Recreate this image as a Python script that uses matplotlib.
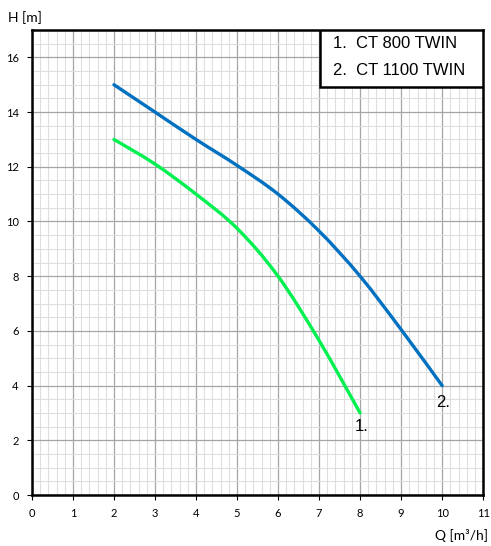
import numpy as np
import matplotlib.pyplot as plt
from matplotlib.path import Path
from matplotlib.patches import PathPatch, Rectangle

# pump curves
q_800 = [2, 3, 4, 5, 6, 7, 8]
h_800 = [13.0, 12.1, 11.0, 9.75, 8.0, 5.65, 3.0]
q_1100 = [2, 3, 4, 5, 6, 7, 8, 9, 10]
h_1100 = [15.0, 14.0, 13.0, 12.05, 11.0, 9.65, 8.0, 6.05, 4.0]
legend_lines = ['1.  CT 800 TWIN', '2.  CT 1100 TWIN']
curve_tags = ['1.', '2.']


def smooth_path(xs, ys, t=1/6):
    # Catmull-Rom style bezier through the points (like a spreadsheet smooth line)
    p = np.column_stack([xs, ys]).astype(float)
    verts = [p[0]]
    codes = [Path.MOVETO]
    n = len(p)
    for i in range(n - 1):
        p0 = p[max(i - 1, 0)]
        p1 = p[i]
        p2 = p[i + 1]
        p3 = p[min(i + 2, n - 1)]
        c1 = p1 + (p2 - p0) * t
        c2 = p2 - (p3 - p1) * t
        verts += [c1, c2, p2]
        codes += [Path.CURVE4] * 3
    return Path(verts, codes)


fig = plt.figure(figsize=(4.91, 5.46), dpi=100)
ax = fig.add_axes([0.065, 0.0934, 0.919, 0.8516])

ax.set_xlim(0, 11)
ax.set_ylim(0, 17)
ax.set_xticks(np.arange(0, 12, 1))
ax.set_yticks(np.arange(0, 17, 2))
ax.set_xticks(np.arange(0, 11.01, 0.2), minor=True)
ax.set_yticks(np.arange(0, 17.01, 0.5), minor=True)
ax.grid(which='minor', color='#dedede', linewidth=0.8)
ax.grid(which='major', color='#a6a6a6', linewidth=0.9)
ax.set_axisbelow(True)
ax.tick_params(which='minor', length=0)
ax.tick_params(which='major', length=3.5, width=0.8, labelsize=8, pad=6)
for lab in ax.get_xticklabels() + ax.get_yticklabels():
    lab.set_family('Lato')
for s in ax.spines.values():
    s.set_linewidth(1.8)
    s.set_color('black')

for xs, ys, col in [(q_800, h_800, '#00f050'), (q_1100, h_1100, '#0070c0')]:
    ax.add_patch(PathPatch(smooth_path(xs, ys), facecolor='none',
                           edgecolor=col, linewidth=2.4, capstyle='round', zorder=3))

ax.text(q_800[-1] + 0.03, h_800[-1] - 0.5, curve_tags[0], fontsize=12,
        family='Liberation Sans', ha='center', va='center')
ax.text(q_1100[-1] + 0.03, h_1100[-1] - 0.63, curve_tags[1], fontsize=12,
        family='Liberation Sans', ha='center', va='center')

ax.add_patch(Rectangle((0.639, 0.877), 0.361, 0.123, transform=ax.transAxes,
                       facecolor='white', edgecolor='black', linewidth=1.8, zorder=4))
ax.text(0.667, 0.970, legend_lines[0], transform=ax.transAxes, fontsize=12,
        family='Liberation Sans', va='center', zorder=5)
ax.text(0.667, 0.912, legend_lines[1], transform=ax.transAxes, fontsize=12,
        family='Liberation Sans', va='center', zorder=5)

fig.text(8 / 491, 1 - 18 / 546, 'H [m]', fontsize=10, family='Lato', va='center')
fig.text(488 / 491, 1 - 535 / 546, 'Q [m³/h]', fontsize=10, family='Lato',
         va='center', ha='right')

fig.savefig('out.png', dpi=100)
